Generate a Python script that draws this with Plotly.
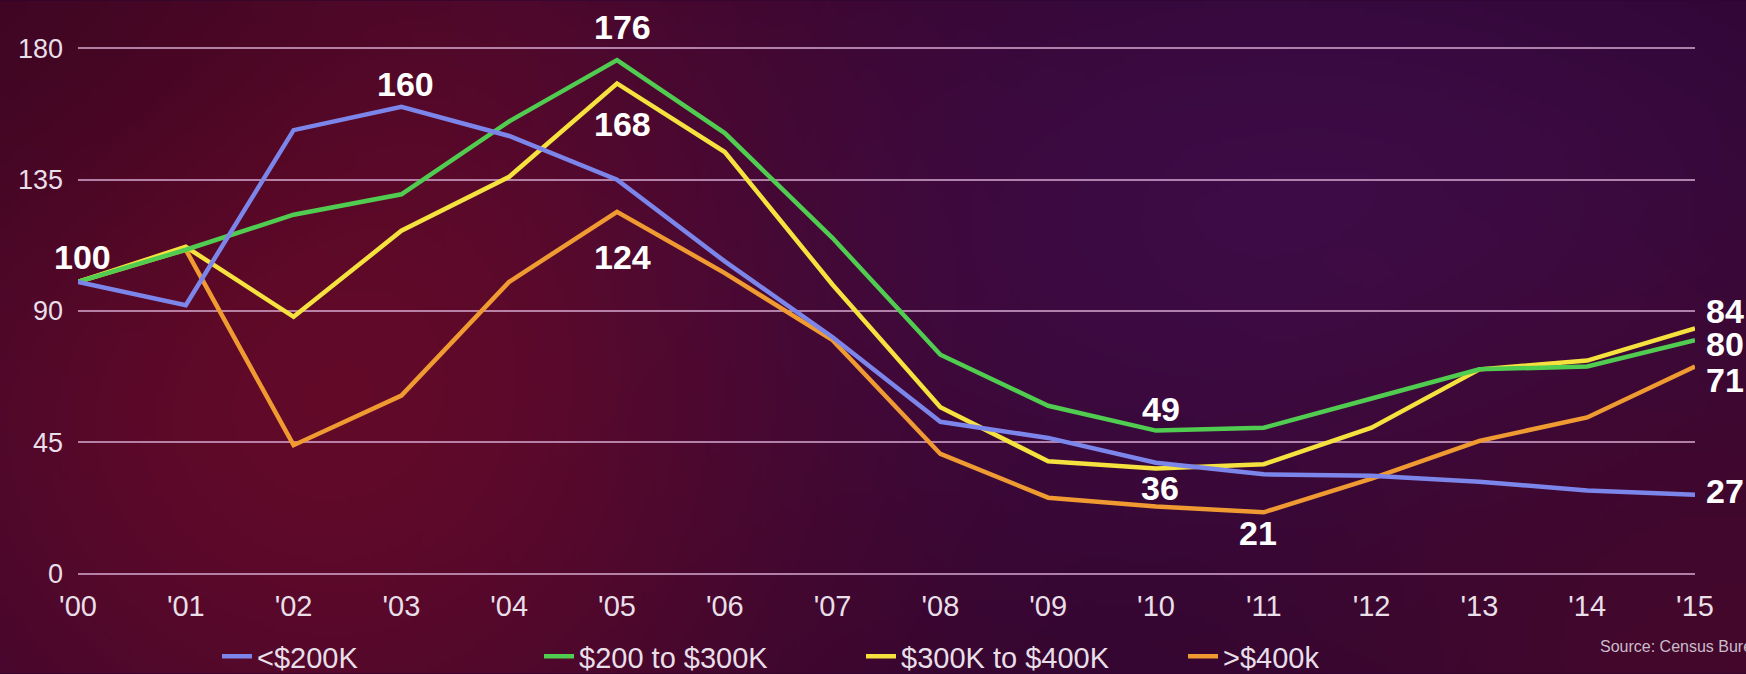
import base64
import struct
import zlib

import numpy as np
import plotly.graph_objects as go

# ---------------- data ----------------
years = ["'00", "'01", "'02", "'03", "'04", "'05", "'06", "'07",
         "'08", "'09", "'10", "'11", "'12", "'13", "'14", "'15"]
under_200k = [100, 92, 152, 160, 150, 135, 107, 81, 52, 46.5, 38, 34, 33.5, 31.5, 28.5, 27]
k200_300 = [100, 111, 123, 130, 155, 176, 151, 115, 75, 57.5, 49, 50, 60, 70, 71, 80]
k300_400 = [100, 112, 88, 117.5, 136, 168, 144.5, 99, 57, 38.5, 36, 37.5, 50, 70, 73, 84]
over_400k = [100, 111, 44, 61, 100, 124, 103, 80, 41, 26, 23, 21, 32.5, 45.5, 53.5, 71]
series_names = ["<$200K", "$200 to $300K", "$300K to $400K", ">$400k"]
y_ticks = [0, 45, 90, 135, 180]

x = list(range(len(years)))

# ---------------- background gradient (PNG built in memory) ----------------
W, H = 1746, 674


def make_png(arr):
    h, w, _ = arr.shape
    raw = b"".join(b"\x00" + arr[i].tobytes() for i in range(h))

    def chunk(tag, data):
        c = struct.pack(">I", len(data)) + tag + data
        return c + struct.pack(">I", zlib.crc32(tag + data) & 0xFFFFFFFF)

    return (b"\x89PNG\r\n\x1a\n"
            + chunk(b"IHDR", struct.pack(">IIBBBBB", w, h, 8, 2, 0, 0, 0))
            + chunk(b"IDAT", zlib.compress(raw, 9))
            + chunk(b"IEND", b""))


gw, gh = 350, 135
gx, gy = np.meshgrid(np.linspace(0, W, gw), np.linspace(0, H, gh))
img = np.zeros((gh, gw, 3), dtype=float)
img[:] = np.array([44, 5, 48], dtype=float)


def glow(cx, cy, sx, sy, col, a):
    global img
    w = a * np.exp(-(((gx - cx) / sx) ** 2 + ((gy - cy) / sy) ** 2) / 2.0)
    img = img * (1 - w[..., None]) + np.array(col, dtype=float) * w[..., None]


glow(330, 340, 380, 420, (104, 10, 40), 0.95)
glow(1330, 230, 380, 230, (66, 14, 80), 0.75)
glow(1746, 674, 330, 260, (72, 8, 42), 0.85)
glow(0, 0, 260, 200, (58, 5, 30), 0.6)
img = np.clip(img, 0, 255).astype(np.uint8)
bg_src = "data:image/png;base64," + base64.b64encode(make_png(img)).decode()

# ---------------- figure ----------------
colors = ["#7c86ea", "#50cc50", "#f5e23e", "#f09a32"]
values = [under_200k, k200_300, k300_400, over_400k]

fig = go.Figure()
draw_order = [3, 2, 1, 0]
for i in draw_order:
    fig.add_trace(go.Scatter(
        x=x, y=values[i], mode="lines", name=series_names[i],
        line=dict(color=colors[i], width=4.5),
        legendrank=i + 1, hoverinfo="skip",
    ))

L, R, T, B = 78, 51, 46.5, 98.5
pw, ph = W - L - R, H - T - B
y_lo, y_hi = -0.5, 180.5


def py(pix):
    """paper y for a pixel row (top-left origin)"""
    return (H - B - pix) / ph


def px(pix):
    return (pix - L) / pw


label_font = dict(family="Liberation Sans, Arial, sans-serif",
                  size=34, color="white", weight="bold")

# (series index, year index, x shift px, y shift px, anchor)
labels = [
    (0, 0, 4, 25, "center"),
    (0, 3, 4, 23, "center"),
    (1, 5, 5, 33, "center"),
    (2, 5, 5, -41, "center"),
    (3, 5, 5, -45, "center"),
    (1, 10, 5, 22, "center"),
    (2, 10, 4, -19, "center"),
    (3, 11, -6, -21, "center"),
    (2, 15, 9, 18, "left"),
    (1, 15, 9, -4, "left"),
    (3, 15, 9, -14, "left"),
    (0, 15, 9, 4, "left"),
]
for si, xi, dx, dy, anc in labels:
    v = values[si][xi]
    fig.add_annotation(x=x[xi], y=v, text=f"{round(v)}", showarrow=False,
                       xshift=dx, yshift=dy, xanchor=anc, yanchor="middle",
                       font=label_font)

fig.add_annotation(xref="paper", yref="paper", x=px(1598), y=py(647),
                   xanchor="left", yanchor="middle",
                   text="Source: Census Bureau", showarrow=False,
                   font=dict(family="Liberation Sans, Arial, sans-serif",
                             size=16, color="#cbbccb"))

fig.add_layout_image(source=bg_src, xref="paper", yref="paper",
                     x=px(0), y=py(0), sizex=W / pw, sizey=H / ph,
                     xanchor="left", yanchor="top", sizing="stretch", layer="below")

tick_font = dict(family="Liberation Sans, Arial, sans-serif", size=29, color="#e8dfe8")

fig.update_layout(
    width=W, height=H,
    margin=dict(l=L, r=R, t=T, b=B, autoexpand=False),
    paper_bgcolor="#2c0530",
    plot_bgcolor="rgba(0,0,0,0)",
    showlegend=True,
    legend=dict(orientation="h", x=px(217), y=py(657),
                xanchor="left", yanchor="middle",
                entrywidth=277, entrywidthmode="pixels",
                font=dict(family="Liberation Sans, Arial, sans-serif", size=29, color="#e8dfe8"),
                bgcolor="rgba(0,0,0,0)", itemclick=False),
    xaxis=dict(range=[0, 15], tickvals=x, ticktext=years, showgrid=False,
               zeroline=False, showline=False, ticks="", tickfont=tick_font,
               ticklabelstandoff=11, fixedrange=True),
    yaxis=dict(range=[y_lo, y_hi], tickvals=y_ticks, showgrid=True,
               gridcolor="rgba(215,170,210,0.75)", gridwidth=1.5,
               zeroline=False, showline=False, ticks="", ticklabelstandoff=14,
               tickfont=dict(family="Liberation Sans, Arial, sans-serif", size=27, color="#e8dfe8"),
               fixedrange=True),
)

fig.write_html(
    "out.html",
    config={"displayModeBar": False},
    post_script="document.body.style.margin='0';document.body.style.overflow='hidden';"
                "document.body.style.background='#2c0530';",
)
